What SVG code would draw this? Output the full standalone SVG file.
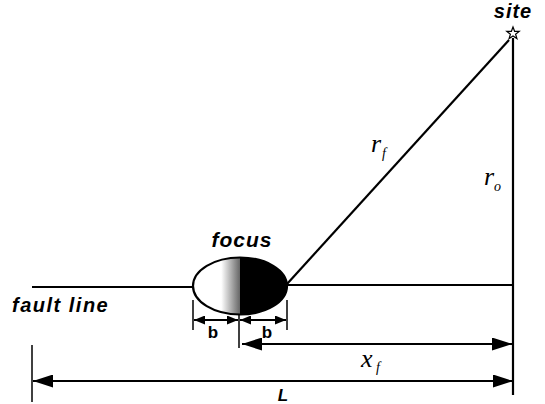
<svg xmlns="http://www.w3.org/2000/svg" width="545" height="404" viewBox="0 0 545 404">
<style>
.ln{stroke:#000;stroke-width:2.2;fill:none}
.tk{stroke:#000;stroke-width:1.5;fill:none}
.lbl{font-family:"Liberation Sans",Arial,sans-serif;font-weight:bold;font-style:italic;fill:#000}
.b{font-family:"Liberation Sans",Arial,sans-serif;font-weight:bold;font-size:17px;fill:#000}
.m{font-family:"Liberation Serif","Times New Roman",serif;font-style:italic;fill:#000}
</style>
<defs>
<linearGradient id="fg" x1="0" y1="0" x2="1" y2="0">
<stop offset="0" stop-color="#fff"/>
<stop offset="0.3" stop-color="#fff"/>
<stop offset="0.5" stop-color="#666"/>
<stop offset="0.5" stop-color="#000"/>
<stop offset="1" stop-color="#000"/>
</linearGradient>
<marker id="ab" viewBox="0 0 11 9" refX="11" refY="4.5" markerWidth="11" markerHeight="9" markerUnits="userSpaceOnUse" orient="auto-start-reverse"><path d="M0,0L11,4.5L0,9z" fill="#000"/></marker>
<marker id="aL" viewBox="0 0 20 13" refX="20" refY="6.5" markerWidth="20" markerHeight="13" markerUnits="userSpaceOnUse" orient="auto-start-reverse"><path d="M0,0L20,6.5L0,13z" fill="#000"/></marker>
</defs>
<g id="connectors">
<line class="ln" x1="32" y1="287" x2="193" y2="287"/>
<line class="ln" x1="287" y1="285" x2="513" y2="285"/>
<line class="ln" x1="287" y1="284" x2="509" y2="40"/>
<line class="ln" x1="513" y1="38" x2="513" y2="395"/>
<line class="tk" x1="193" y1="300" x2="193" y2="330"/>
<line class="tk" x1="239" y1="312" x2="239" y2="348"/>
<line class="tk" x1="287" y1="300" x2="287" y2="330"/>
<line class="tk" x1="32" y1="345" x2="32" y2="402"/>
<line class="ln" x1="194" y1="320" x2="238" y2="320" marker-start="url(#ab)" marker-end="url(#ab)"/>
<line class="ln" x1="240" y1="320" x2="286" y2="320" marker-start="url(#ab)" marker-end="url(#ab)"/>
<line class="ln" x1="242" y1="344" x2="512" y2="344" marker-start="url(#aL)" marker-end="url(#aL)"/>
<line class="ln" x1="33" y1="381" x2="513" y2="381" marker-start="url(#aL)" marker-end="url(#aL)"/>
</g>
<g id="focus">
<ellipse cx="240" cy="286" rx="47" ry="28.5" fill="url(#fg)" stroke="#000" stroke-width="2.2"/>
<text class="lbl" x="242" y="247" font-size="21" letter-spacing="1" text-anchor="middle">focus</text>
</g>
<g id="site">
<polygon points="513,27 514.6,31.3 519.2,31.4 515.6,34.2 516.9,38.6 513,36 509.1,38.6 510.4,34.2 506.8,31.4 511.4,31.3" fill="#fff" stroke="#000" stroke-width="1.2"/>
<text class="lbl" x="513" y="18" font-size="20" letter-spacing="1" text-anchor="middle">site</text>
</g>
<g id="labels">
<text class="lbl" x="12" y="312" font-size="20" letter-spacing="1.5">fault line</text>
<text class="b" x="213" y="338" text-anchor="middle">b</text>
<text class="b" x="267" y="338" text-anchor="middle">b</text>
<text class="m" x="371" y="152" font-size="26">r</text>
<text class="m" x="382" y="158" font-size="14">f</text>
<text class="m" x="484" y="185" font-size="26">r</text>
<text class="m" x="494" y="191" font-size="14">o</text>
<text class="m" x="361" y="367" font-size="26">x</text>
<text class="m" x="376" y="372" font-size="14">f</text>
<text class="lbl" x="283" y="401" font-size="17" text-anchor="middle">L</text>
</g>
</svg>
